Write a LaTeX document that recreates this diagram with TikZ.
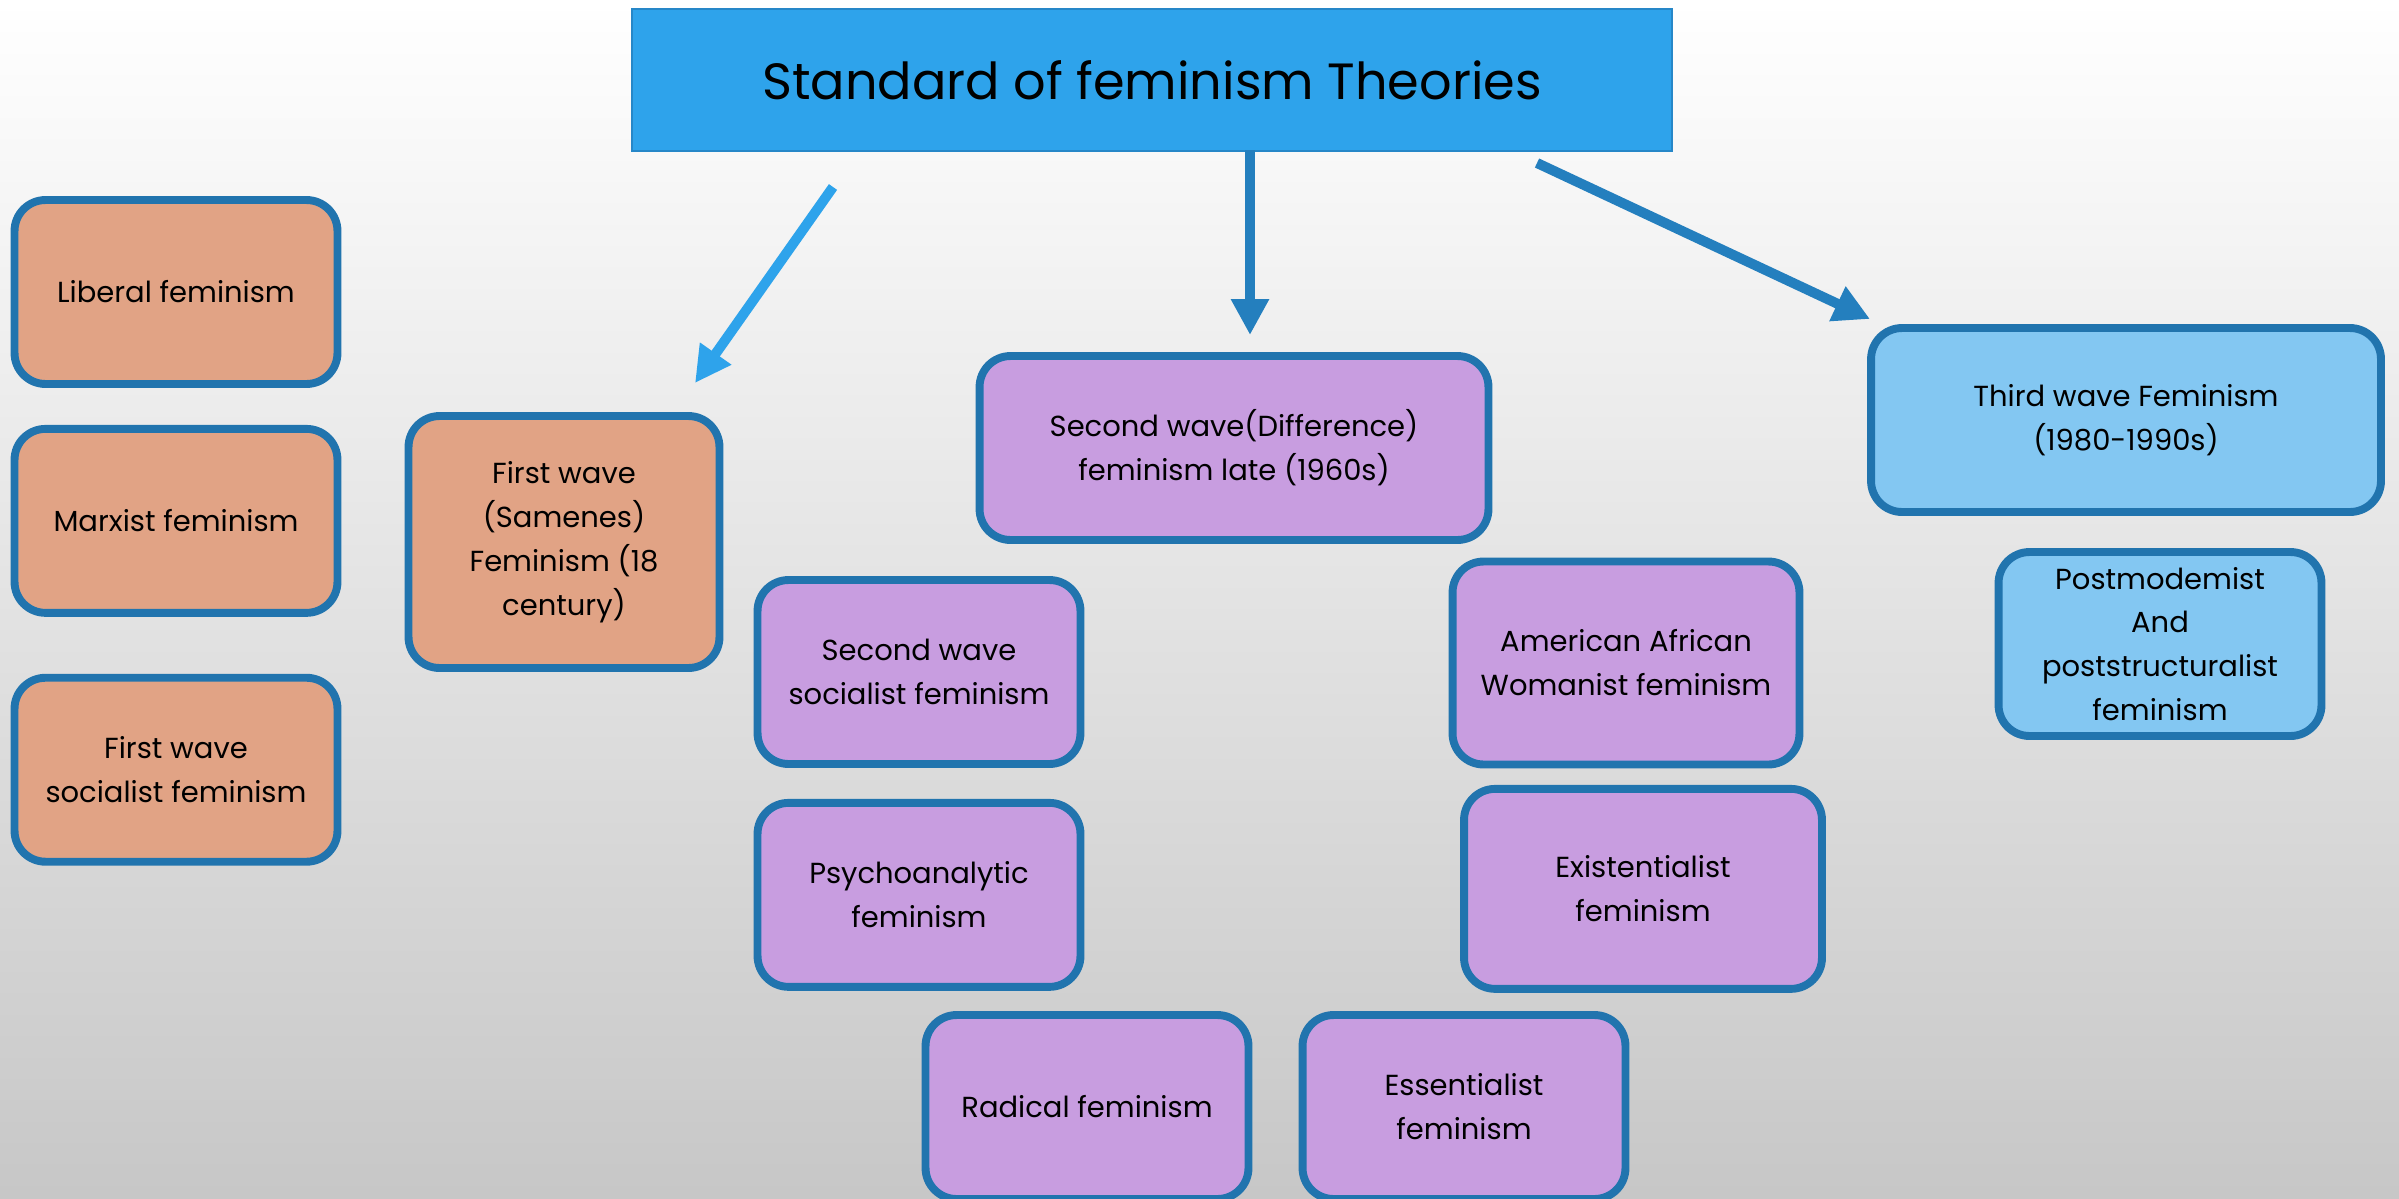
\documentclass[tikz,border=0pt]{standalone}
\usepackage{fontspec}
\setmainfont{Poppins}
\usepackage{xcolor}
\usepackage{tikz}
\usetikzlibrary{arrows.meta,positioning}
\definecolor{salmon}{RGB}{225,163,133}
\definecolor{lilac}{RGB}{200,157,224}
\definecolor{skyblue}{RGB}{131,199,242}
\definecolor{edgeblue}{RGB}{33,116,174}
\definecolor{titleblue}{RGB}{46,163,235}
\definecolor{titleedge}{RGB}{38,135,200}
\definecolor{arrowblue}{RGB}{36,127,190}
\tikzset{theory/.style={rectangle, rounded corners=0.62cm, draw=edgeblue, line width=4.5pt, align=center, minimum width=6.46cm, minimum height=3.68cm, inner sep=2pt, font=\fontsize{16.5}{25}\selectfont}, wave1/.style={theory, fill=salmon}, wave2/.style={theory, fill=lilac}, wave3/.style={theory, fill=skyblue}, headbox/.style={rectangle, draw=titleedge, line width=1.5pt, fill=titleblue, minimum width=20.8cm, minimum height=2.84cm, font=\fontsize{29}{34}\selectfont}, lightarrow/.style={-{Triangle[length=0.72cm,width=0.72cm]}, line width=0.2cm, draw=titleblue}, darkarrow/.style={-{Triangle[length=0.72cm,width=0.72cm]}, line width=0.2cm, draw=arrowblue}}
\begin{document}
\begin{tikzpicture}[x=0.02cm, y=-0.02cm]
\useasboundingbox (0,0) rectangle (2399,1198);
\shade[top color=white, middle color=black!5, bottom color=black!22] (0,0) rectangle (2399,1198);
\node[headbox] (title) at (1152,80) {Standard of feminism Theories};
\node[wave1] (liberal) at (176,292) {Liberal feminism};
\node[wave1, below=0.74cm of liberal] (marxist) {Marxist feminism};
\node[wave1, below=1.14cm of marxist] (fwsocialist) {First wave\\socialist feminism};
\node[wave1, minimum width=6.22cm, minimum height=5.04cm] (firstwave) at (564,542) {First wave\\(Samenes)\\Feminism (18\\century)};
\node[wave2, minimum width=10.18cm] (secondwave) at (1234,448) {Second wave(Difference)\\feminism late (1960s)};
\node[wave2] (swsocialist) at (919,672) {Second wave\\socialist feminism};
\node[wave2, below=0.62cm of swsocialist] (psycho) {Psychoanalytic\\feminism};
\node[wave2] (radical) at (1087,1107) {Radical feminism};
\node[wave2] (essential) at (1464,1107) {Essentialist\\feminism};
\node[wave2, minimum width=6.94cm, minimum height=4.06cm] (american) at (1626,663) {American African\\Womanist feminism};
\node[wave2, minimum width=7.16cm, minimum height=4.0cm, below=0.33cm of american, xshift=0.34cm] (existential) {Existentialist\\feminism};
\node[wave3, minimum width=10.2cm] (thirdwave) at (2126,420) {Third wave Feminism\\(1980-1990s)};
\node[wave3] (postmod) at (2160,644) {Postmodemist\\And\\poststructuralist\\feminism};
\coordinate (lstart) at (833,187);
\coordinate (lend) at (695,383);
\coordinate (mstart) at (1250,150);
\coordinate (mend) at (1250,335);
\coordinate (rstart) at (1537,163);
\coordinate (rend) at (1870,319);
\draw[lightarrow] (lstart)--(lend);
\draw[darkarrow] (mstart)--(mend);
\draw[darkarrow] (rstart)--(rend);
\end{tikzpicture}
\end{document}
